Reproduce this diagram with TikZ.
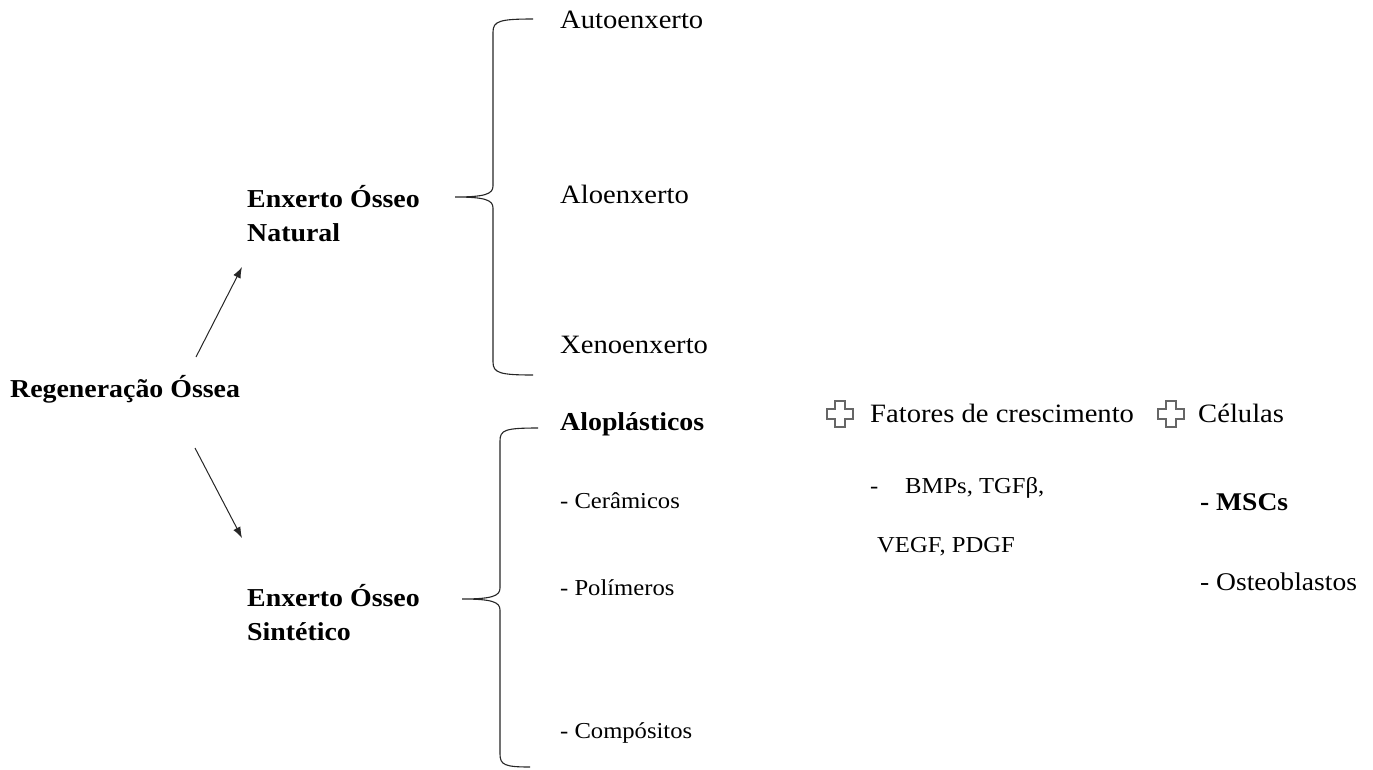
\documentclass[tikz,border=0pt]{standalone}
\usepackage{fontspec}
\setmainfont{Liberation Serif}[FakeStretch=1.08]
\usetikzlibrary{arrows.meta}
\begin{document}
\begin{tikzpicture}[x=1pt,y=-1pt,
  txt/.style={inner sep=0pt, anchor=base west, font=\fontsize{26.5}{32}\selectfont},
  bld/.style={inner sep=0pt, anchor=base west, align=left, font=\bfseries\fontsize{25.8}{34}\selectfont},
  itm/.style={inner sep=0pt, anchor=base west, font=\fontsize{22.8}{28}\selectfont},
  cell/.style={inner sep=0pt, anchor=base west, font=\fontsize{25.5}{30}\selectfont},
  brace/.style={draw=black!85, line width=1.1pt},
  arr/.style={draw=black!85, line width=1pt, -{Latex[length=11pt,width=8pt]}},
  plusline/.style={draw=black!60, line width=1.1pt},
  pluspic/.pic={\draw[plusline] (-5,-13) -- (5,-13) -- (5,-5) -- (13,-5) -- (13,5) -- (5,5) -- (5,13) -- (-5,13) -- (-5,5) -- (-13,5) -- (-13,-5) -- (-5,-5) -- cycle;}]
\useasboundingbox (0,0) rectangle (1373,769);

% left part
\node[bld] (reg) at (10,397) {Regeneração Óssea};
\node[bld] (nat) at (247,241) {Enxerto Ósseo\\Natural};
\node[bld] (sin) at (247,640) {Enxerto Ósseo\\Sintético};

\coordinate (a1s) at (196,357);
\coordinate (a1e) at (242,267);
\coordinate (a2s) at (195,448);
\coordinate (a2e) at (242,538);
\draw[arr] (a1s) -- (a1e);
\draw[arr] (a2s) -- (a2e);

% brace 1
\draw[brace] (533,19) .. controls (500,19) and (493,21) .. (493,32)
  -- (493,186) .. controls (493,194) and (485,197) .. (455,197)
  .. controls (485,197) and (493,200) .. (493,208)
  -- (493,362) .. controls (493,373) and (500,375) .. (533,375);

% brace 2
\draw[brace] (538,428) .. controls (505,428) and (500,430) .. (500,441)
  -- (500,588) .. controls (500,596) and (492,599) .. (462,599)
  .. controls (492,599) and (500,602) .. (500,610)
  -- (500,754) .. controls (500,765) and (505,767) .. (530,767);

% natural items
\node[txt] (auto) at (560,28) {Autoenxerto};
\node[txt] (alo) at (560,203) {Aloenxerto};
\node[txt] (xeno) at (560,353) {Xenoenxerto};

% synthetic items
\node[bld] (aplast) at (560,430) {Aloplásticos};
\node[itm] (cer) at (560,508) {- Cerâmicos};
\node[itm] (pol) at (560,595) {- Polímeros};
\node[itm] (comp) at (560,738) {- Compósitos};

% growth factors and cells
\pic (p1) at (840,414) {pluspic};
\node[txt] (fat) at (870,422) {Fatores de crescimento};
\pic (p2) at (1171,414) {pluspic};
\node[txt] (cel) at (1198,422) {Células};

\node[itm] (dash) at (870,493) {-};
\node[itm] (bmp) at (905,493) {BMPs, TGFβ,};
\node[itm] (vegf) at (877,552) {VEGF, PDGF};

\node[cell, font=\bfseries\fontsize{25.5}{30}\selectfont] (msc) at (1200,510) {- MSCs};
\node[cell] (ost) at (1200,590) {- Osteoblastos};
\end{tikzpicture}
\end{document}
